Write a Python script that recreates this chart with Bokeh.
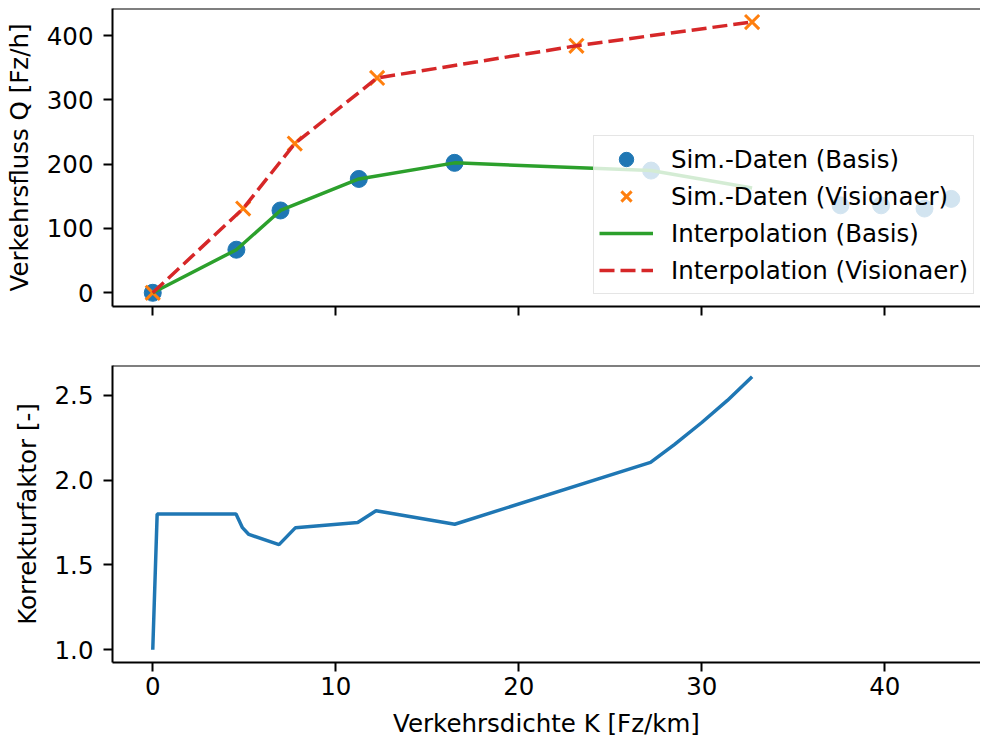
from bokeh.plotting import figure
from bokeh.layouts import column
from bokeh.models import (Range1d, FixedTicker, Span, Legend, LegendItem,
                          PrintfTickFormatter, CustomJSTickFormatter)
from bokeh.embed import file_html
from bokeh.resources import INLINE

# ---- data ----
K_basis = [0.0, 4.57, 6.98, 11.26, 16.49, 27.23, 37.58, 39.8, 42.17, 43.63]
Q_basis = [0, 67, 128, 177, 202, 190, 136, 136, 131, 146]

K_vis = [0.0, 4.94, 7.76, 12.26, 23.15, 32.75]
Q_vis = [0, 131, 232, 334, 384, 421]

K_interp_basis = [0.0, 4.57, 6.98, 11.26, 16.49, 27.23, 32.75]
Q_interp_basis = [0, 67, 128, 177, 202, 190, 163]

K_interp_vis = [0.0, 4.94, 7.76, 12.26, 23.15, 32.75]
Q_interp_vis = [0, 131, 232, 334, 384, 421]

K_faktor = [0.0, 0.24, 4.55, 4.9, 5.25, 6.9, 7.8, 11.2, 12.2, 16.5, 27.2, 28.5, 30.0, 31.4, 32.75]
Faktor = [1.0, 1.8, 1.8, 1.72, 1.68, 1.62, 1.72, 1.75, 1.82, 1.74, 2.105, 2.21, 2.34, 2.47, 2.61]

x_ticks = [0, 10, 20, 30, 40]
q_ticks = [0, 100, 200, 300, 400]
f_ticks = [1.0, 1.5, 2.0, 2.5]

labels = ["Sim.-Daten (Basis)", "Sim.-Daten (Visionaer)",
          "Interpolation (Basis)", "Interpolation (Visionaer)"]

BLUE, ORANGE, GREEN, RED = "#1f77b4", "#ff7f0e", "#2ca02c", "#d62728"
FONT = "DejaVu Sans"
FS = "24.5px"


def style_axis(ax):
    ax.major_label_text_font = FONT
    ax.major_label_text_font_size = FS
    ax.major_label_text_color = "black"
    ax.axis_label_text_font = FONT
    ax.axis_label_text_font_size = FS
    ax.axis_label_text_font_style = "normal"
    ax.axis_label_text_color = "black"
    ax.major_tick_out = 9
    ax.major_tick_in = 0
    ax.minor_tick_out = 0
    ax.minor_tick_in = 0
    ax.major_tick_line_width = 2
    ax.major_tick_line_color = "black"
    ax.axis_line_width = 2
    ax.axis_line_color = "black"


def base(p):
    p.outline_line_color = None
    p.xgrid.visible = False
    p.ygrid.visible = False
    for ax in p.axis:
        style_axis(ax)


x_range = Range1d(-2.2, 45.23)

# ---- top plot ----
p1 = figure(width=980, height=340, x_range=x_range, y_range=Range1d(-21.3, 442),
            output_backend="svg", toolbar_location=None,
            min_border_left=112, min_border_right=0, min_border_top=8, min_border_bottom=34)
base(p1)
p1.xaxis.ticker = FixedTicker(ticks=x_ticks)
p1.xaxis.formatter = CustomJSTickFormatter(code="return ''")
p1.yaxis.ticker = FixedTicker(ticks=q_ticks)
p1.yaxis.axis_label = "Verkehrsfluss Q [Fz/h]"
p1.yaxis.major_label_standoff = 10
p1.yaxis.axis_label_standoff = 10
p1.add_layout(Span(location=442, dimension="width", line_color="black", line_width=2))

r1 = p1.scatter(K_basis, Q_basis, marker="circle", size=17, fill_color=BLUE, line_color=BLUE)
r2 = p1.scatter(K_vis, Q_vis, marker="x", size=20, line_color=ORANGE, line_width=3)
r3 = p1.line(K_interp_basis, Q_interp_basis, line_color=GREEN, line_width=3.5)
r4 = p1.line(K_interp_vis, Q_interp_vis, line_color=RED, line_width=3.5, line_dash="15 6")

legend = Legend(items=[LegendItem(label=labels[0], renderers=[r1]),
                       LegendItem(label=labels[1], renderers=[r2]),
                       LegendItem(label=labels[2], renderers=[r3]),
                       LegendItem(label=labels[3], renderers=[r4])],
                location=(481, 12), margin=0, padding=5, spacing=1,
                glyph_width=54, glyph_height=36, label_height=36, label_standoff=18,
                label_text_font=FONT, label_text_font_size=FS, label_text_color="black",
                border_line_color="#cccccc", border_line_width=1.5,
                background_fill_color="white", background_fill_alpha=0.8)
p1.add_layout(legend)

# ---- bottom plot ----
p2 = figure(width=980, height=400, x_range=x_range, y_range=Range1d(0.925, 2.676),
            output_backend="svg", toolbar_location=None,
            min_border_left=112, min_border_right=0, min_border_top=25, min_border_bottom=77)
base(p2)
p2.xaxis.ticker = FixedTicker(ticks=x_ticks)
p2.xaxis.axis_label = "Verkehrsdichte K [Fz/km]"
p2.xaxis.major_label_standoff = 5
p2.xaxis.axis_label_standoff = 11
p2.yaxis.ticker = FixedTicker(ticks=f_ticks)
p2.yaxis.formatter = PrintfTickFormatter(format="%.1f")
p2.yaxis.axis_label = "Korrekturfaktor [-]"
p2.yaxis.major_label_standoff = 10
p2.yaxis.axis_label_standoff = 10
p2.add_layout(Span(location=2.676, dimension="width", line_color="black", line_width=2))

p2.line(K_faktor, Faktor, line_color=BLUE, line_width=3.5)

layout = column(p1, p2, spacing=0)
open("out.html", "w").write(file_html(layout, INLINE))
